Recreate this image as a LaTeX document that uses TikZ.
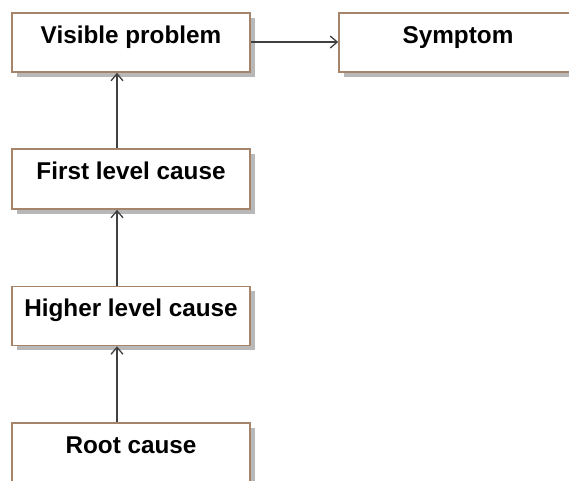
\documentclass[tikz,border=0pt]{standalone}
\usepackage{fontspec}
\setmainfont{Liberation Sans}
\usetikzlibrary{arrows.meta,shadows}
\definecolor{boxborder}{RGB}{165,132,105}
\definecolor{connc}{RGB}{64,64,64}
\begin{document}
\begin{tikzpicture}[x=1pt,y=1pt,
  causebox/.style={draw=boxborder, line width=1.6pt, fill=white,
    minimum width=238pt, minimum height=59pt,
    inner ysep=12.5pt, text height=17.5pt, text depth=16.5pt,
    font=\fontsize{24.3pt}{28pt}\selectfont\bfseries,
    drop shadow={fill=black!28, shadow xshift=4.5pt, shadow yshift=-4.5pt, opacity=1}},
  conn/.style={draw=connc, line width=1.8pt,
    -{Straight Barb[length=7pt,width=12pt,line width=1.3pt]}}]
\useasboundingbox (0,0) rectangle (569,-480);
\node[causebox] (vis)  at (131,-42.5) {Visible problem};
\node[causebox] (sym)  at (458,-42.5) {Symptom};
\node[causebox, minimum height=60pt] (first) at (131,-179) {First level cause};
\node[causebox] (higher) at (131,-316) {Higher level cause};
\node[causebox] (root) at (131,-452.5) {Root cause};
\draw[conn] ([yshift=0.5pt]vis.east) -- ([yshift=0.5pt]sym.west);
\draw[conn] ([xshift=-14pt]first.north) -- ([xshift=-14pt]vis.south);
\draw[conn] ([xshift=-14pt]higher.north) -- ([xshift=-14pt]first.south);
\draw[conn] ([xshift=-14pt]root.north) -- ([xshift=-14pt]higher.south);
\end{tikzpicture}
\end{document}
